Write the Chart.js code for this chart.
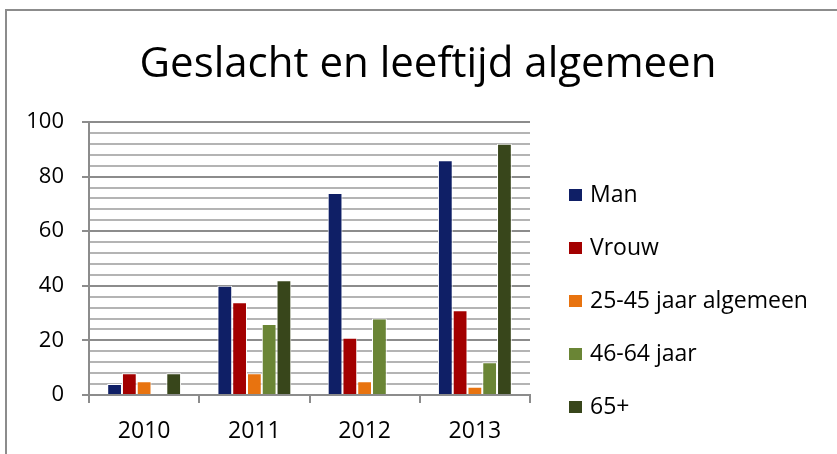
<!DOCTYPE html>
<html>
<head>
<meta charset="utf-8">
<script src="https://cdn.jsdelivr.net/npm/chart.js@4"></script>
<style>
  body { margin: 0; background: #fff; font-family: 'Open Sans', sans-serif; }
  #wrap { position: absolute; left: 5px; top: 9px; width: 840px; height: 450px; border: 2px solid #8c8c8c; box-sizing: border-box; }
  #box { position: absolute; left: 0; top: 0; width: 837px; height: 454px; }
  #title { position: absolute; left: 0; width: 856px; top: 33px; text-align: center; font-size: 42px; line-height: 56px; color: #000; white-space: nowrap; }
  #legend { position: absolute; left: 569px; top: 0; }
  .item { position: absolute; left: 0; white-space: nowrap; font-size: 23px; color: #000; line-height: 30px; height: 30px; }
  .sw { display: inline-block; width: 13px; height: 12px; margin-right: 8px; vertical-align: 1px; }
</style>
</head>
<body>
<div id="wrap"></div>
<div id="box"><canvas id="chart1" width="837" height="454"></canvas></div>
<div id="title">Geslacht en leeftijd algemeen</div>
<div id="legend"></div>
<script>
const years = ['2010', '2011', '2012', '2013'];
const seriesNames = ['Man', 'Vrouw', '25-45 jaar algemeen', '46-64 jaar', '65+'];
const man = [4, 40, 74, 86];
const vrouw = [8, 34, 21, 31];
const jaar2545 = [5, 8, 5, 3];
const jaar4664 = [0, 26, 28, 12];
const plus65 = [8, 42, 0, 92];
const colors = ['#0f1f66', '#a30000', '#e8730f', '#6a8535', '#38461b'];

// legend, drawn as html next to the plot
const legend = document.getElementById('legend');
seriesNames.forEach((name, i) => {
  const el = document.createElement('div');
  el.className = 'item';
  el.style.top = (193 + i * 53 - 15) + 'px';
  el.innerHTML = '<span class="sw" style="background:' + colors[i] + '"></span>' + name;
  legend.appendChild(el);
});

const ctx1 = document.getElementById('chart1').getContext('2d');
const chart1 = new Chart(ctx1, {
  type: 'bar',
  data: {
    labels: years,
    datasets: [man, vrouw, jaar2545, jaar4664, plus65].map((d, i) => ({
      label: seriesNames[i],
      data: d,
      backgroundColor: colors[i],
      borderColor: '#ffffff',
      borderWidth: 1,
      borderSkipped: 'bottom',
      categoryPercentage: 0.67,
      barPercentage: 1.0
    }))
  },
  options: {
    responsive: false,
    animation: false,
    layout: { padding: { left: 0, right: 307, top: 122, bottom: 0 } },
    plugins: {
      title: { display: false },
      legend: { display: false },
      tooltip: { enabled: false }
    },
    scales: {
      x: {
        afterFit: s => { s.height = 59; },
        grid: { display: true, offset: true, drawOnChartArea: false, color: '#8c8c8c', lineWidth: 2, tickLength: 8 },
        border: { color: '#8c8c8c', width: 2 },
        ticks: { color: '#000', padding: 15, font: { family: 'Open Sans', size: 23 } }
      },
      y: {
        min: 0,
        max: 100,
        afterFit: s => { s.width = 89; },
        ticks: {
          stepSize: 4,
          autoSkip: false,
          padding: 18,
          color: '#000',
          font: { family: 'Open Sans', size: 22 },
          callback: v => (v % 20 === 0 ? v : '')
        },
        grid: {
          color: ctx => (ctx.tick && ctx.tick.value % 20 === 0 ? '#8c8c8c' : '#b4b4b4'),
          lineWidth: 2,
          tickLength: 7,
          tickColor: ctx => (ctx.tick && ctx.tick.value % 20 === 0 ? '#8c8c8c' : 'rgba(0,0,0,0)')
        },
        border: { color: '#8c8c8c', width: 2 }
      }
    }
  }
});
</script>
</body>
</html>
